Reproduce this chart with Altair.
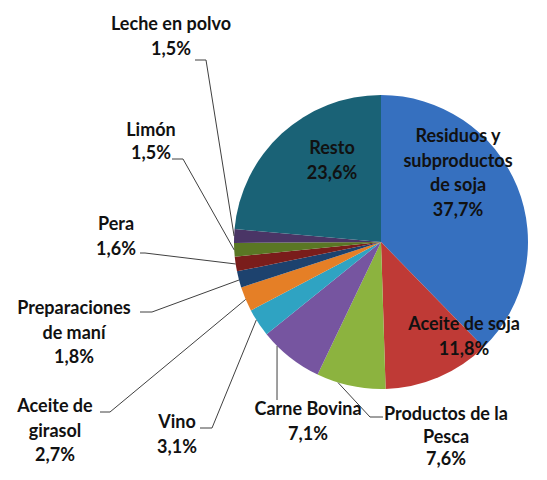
import math
import altair as alt
import pandas as pd

# ---- data ----
categories = [
    "Residuos y subproductos de soja", "Aceite de soja", "Productos de la Pesca",
    "Carne Bovina", "Vino", "Aceite de girasol", "Preparaciones de maní",
    "Pera", "Limón", "Leche en polvo", "Resto",
]
shares = [37.7, 11.8, 7.6, 7.1, 3.1, 2.7, 1.8, 1.6, 1.5, 1.5, 23.6]
colors = ["#3670BF", "#BF3A36", "#8CB33F", "#7655A0", "#2FA3C2", "#E57F26",
          "#1D426E", "#7A1D1B", "#5A7724", "#4A3566", "#1A6276"]

# ---- layout (page pixels) ----
W, H = 531, 464
M = 8  # page margin
CX, CY, R = 381 - M, 242 - M, 147
label_text = [
    "Residuos y\nsubproductos\nde soja", "Aceite de soja", "Productos de la\nPesca",
    "Carne Bovina", "Vino", "Aceite de\ngirasol", "Preparaciones\nde maní",
    "Pera", "Limón", "Leche en polvo", "Resto",
]
label_x = [458, 464, 446, 308, 177, 55, 74, 116, 151, 171, 332]
label_y = [137, 325, 415, 410, 423, 407, 309, 225, 131, 25, 149]  # first line
label_lh = [24.5, 24.5, 22.5, 24.5, 24.5, 24.5, 24.5, 24.5, 22.5, 24.5, 24.5]
# leader lines: (start, elbow, angle on pie in degrees)
leaders = {
    "Productos de la Pesca": ((383, 417), (370, 417), 197),
    "Carne Bovina": ((277, 400), (277, 400), 225),
    "Vino": ((200, 428), (212, 428), 238),
    "Aceite de girasol": ((100, 412), (110, 412), 247),
    "Preparaciones de maní": ((140, 312), (152, 312), 255),
    "Pera": ((140, 253), (145, 253), 261.4),
    "Limón": ((172, 159), (183, 159), 266.9),
    "Leche en polvo": ((195, 60), (206, 60), 272.3),
}

def fmt(v):
    return f"{v:.1f}".replace(".", ",") + "%"

df = pd.DataFrame({"cat": categories, "share": shares, "idx": list(range(len(categories)))})

pie = alt.Chart(df).mark_arc(outerRadius=R, stroke=None).encode(
    theta=alt.Theta("share:Q", stack=True),
    order=alt.Order("idx:Q", sort="ascending"),
    color=alt.Color("cat:N", scale=alt.Scale(domain=categories, range=colors), legend=None),
    x=alt.value(CX), y=alt.value(CY),
)

lab = pd.DataFrame({
    "txt": [t + "\n" + fmt(v) for t, v in zip(label_text, shares)],
    "lx": [v - M for v in label_x],
    "ly": [v - M for v in label_y],
    "lh": label_lh,
})
labels = alt.Chart(lab).mark_text(
    font="Lato", fontSize=18, fontWeight="bold", color="#111111",
    align="center", baseline="middle", lineBreak="\n",
    lineHeight=alt.ExprRef("datum.lh"),
).encode(
    x=alt.X("lx:Q", scale=None), y=alt.Y("ly:Q", scale=None), text="txt:N",
)

segs = []
for name, (p0, p1, ang) in leaders.items():
    a = math.radians(ang)
    p2 = (CX + M + R * math.sin(a), CY + M - R * math.cos(a))
    for s, e in ((p0, p1), (p1, p2)):
        segs.append({"x": s[0] - M, "y": s[1] - M, "x2": e[0] - M, "y2": e[1] - M})
seg_df = pd.DataFrame(segs)
lines = alt.Chart(seg_df).mark_rule(color="#404040", strokeWidth=1).encode(
    x=alt.X("x:Q", scale=None), y=alt.Y("y:Q", scale=None),
    x2="x2:Q", y2="y2:Q",
)

chart = alt.layer(pie, lines, labels).properties(
    width=W, height=H, autosize=alt.AutoSizeParams(type="none"), padding=0,
).configure_view(stroke=None)

chart.save("out.html", embed_options={"renderer": "svg", "actions": False})
